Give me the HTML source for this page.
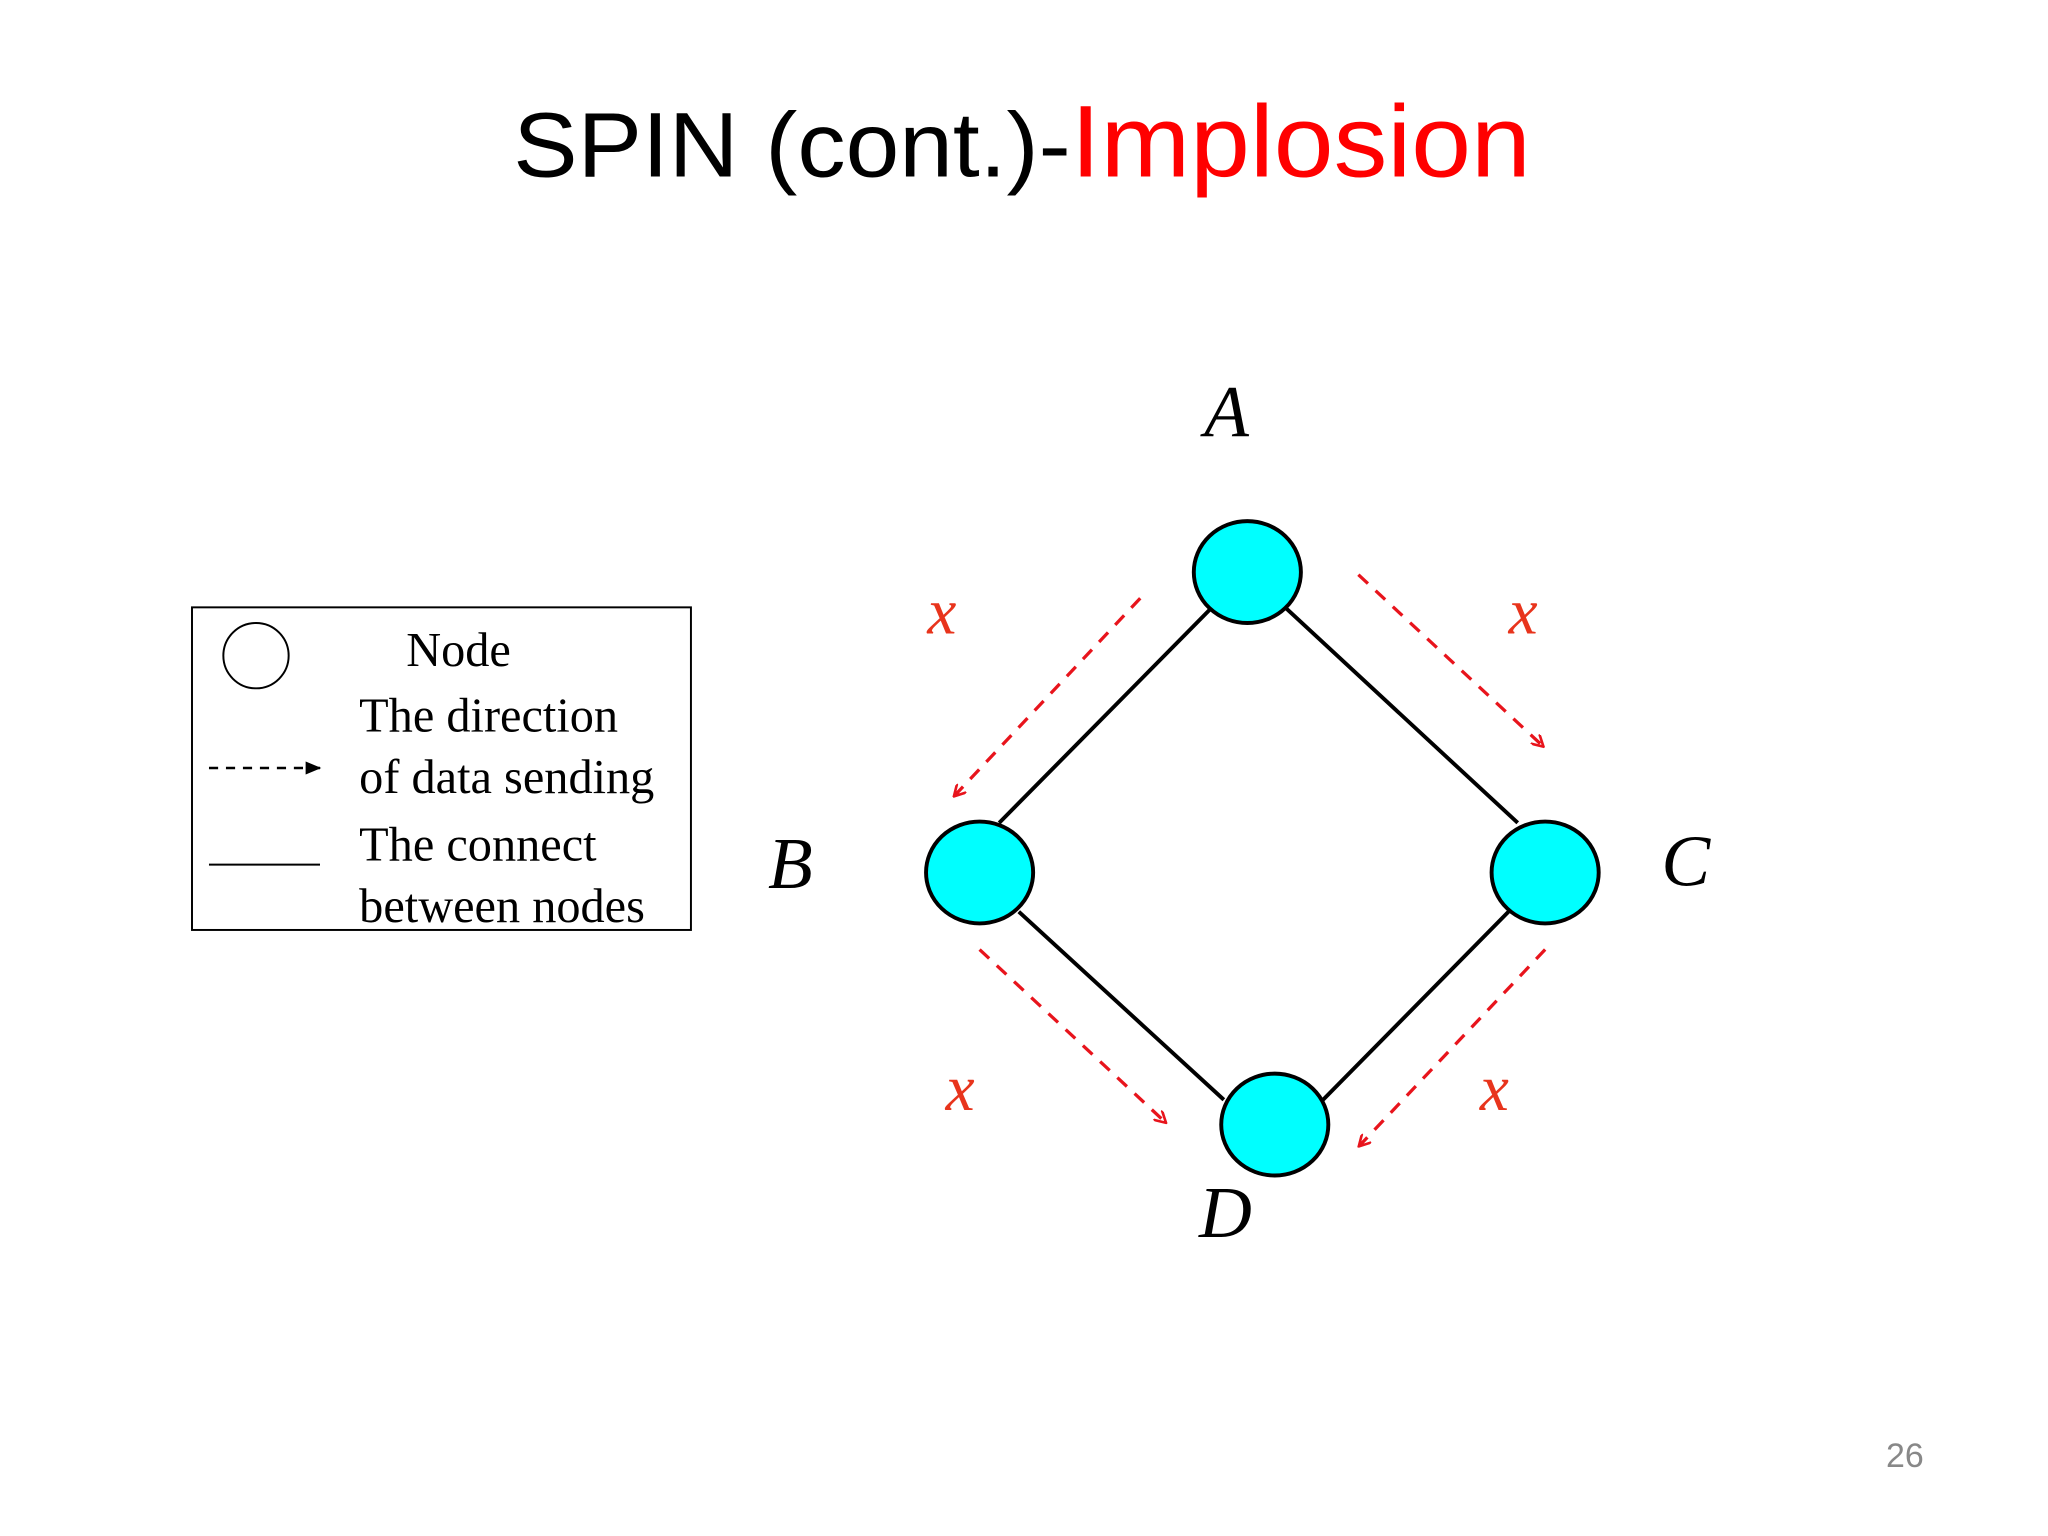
<!DOCTYPE html>
<html><head><style>html,body{margin:0;padding:0;background:#fff}svg{display:block}</style></head>
<body>
<svg width="2048" height="1536" viewBox="0 0 1568 1176" xmlns="http://www.w3.org/2000/svg">
<defs>
<marker id="ra" markerWidth="10" markerHeight="10" refX="8" refY="5" orient="auto" markerUnits="userSpaceOnUse"><path d="M0,0 L9,5 L0,10" fill="none" stroke="#e8141c" stroke-width="2"/></marker>
<marker id="ba" markerWidth="12" markerHeight="10" refX="11" refY="5" orient="auto" markerUnits="userSpaceOnUse"><path d="M0,0 L12,5 L0,10 Z" fill="#000"/></marker>
</defs>
<rect width="1568" height="1176" fill="#fff"/>
<text x="393" y="135" font-family="Liberation Sans, sans-serif" font-size="70" textLength="779" lengthAdjust="spacingAndGlyphs"><tspan fill="#000">SPIN (cont.)-</tspan><tspan fill="#ff0000" font-size="78">Implosion</tspan></text>
<g stroke="#000" stroke-width="3">
<line x1="927" y1="466" x2="765" y2="630"/><line x1="985" y1="466" x2="1162" y2="630"/>
<line x1="780" y1="698" x2="937" y2="842"/><line x1="1155" y1="698" x2="1013" y2="842"/>
</g>
<g fill="#00ffff" stroke="#000" stroke-width="3">
<ellipse cx="955" cy="438" rx="41" ry="39"/><ellipse cx="750" cy="668" rx="41" ry="39"/>
<ellipse cx="1183" cy="668" rx="41" ry="39"/><ellipse cx="976" cy="861" rx="41" ry="39"/>
</g>
<g stroke="#e8141c" stroke-width="2.5" stroke-dasharray="10,8" marker-end="url(#ra)">
<line x1="873" y1="458" x2="731" y2="609"/><line x1="1040" y1="440" x2="1181" y2="571"/>
<line x1="750" y1="727" x2="892" y2="859"/><line x1="1183" y1="727" x2="1041" y2="877"/>
</g>
<g font-family="Liberation Serif, serif" font-style="italic" font-size="56" fill="#000">
<text x="922" y="334">A</text><text x="588" y="680">B</text><text x="1272" y="678">C</text><text x="918" y="947">D</text>
</g>
<g font-family="Liberation Serif, serif" font-style="italic" font-size="50" fill="#e8341c">
<text x="710" y="485">x</text><text x="1155" y="485">x</text><text x="724" y="850">x</text><text x="1133" y="850">x</text>
</g>
<rect x="147" y="465" width="382" height="247" fill="none" stroke="#000" stroke-width="1.5"/>
<circle cx="196" cy="502" r="25" fill="none" stroke="#000" stroke-width="1.5"/>
<line x1="160" y1="588" x2="245" y2="588" stroke="#000" stroke-width="2" stroke-dasharray="7,6" marker-end="url(#ba)"/>
<line x1="160" y1="662" x2="245" y2="662" stroke="#000" stroke-width="1.5"/>
<g font-family="Liberation Serif, serif" font-size="37" fill="#000">
<text x="311" y="510">Node</text><text x="275" y="560">The direction</text><text x="275" y="607">of data sending</text>
<text x="275" y="659">The connect</text><text x="275" y="706">between nodes</text>
</g>
<text x="1444" y="1123" font-family="Liberation Sans, sans-serif" font-size="26" fill="#888">26</text>
</svg>
</body></html>
